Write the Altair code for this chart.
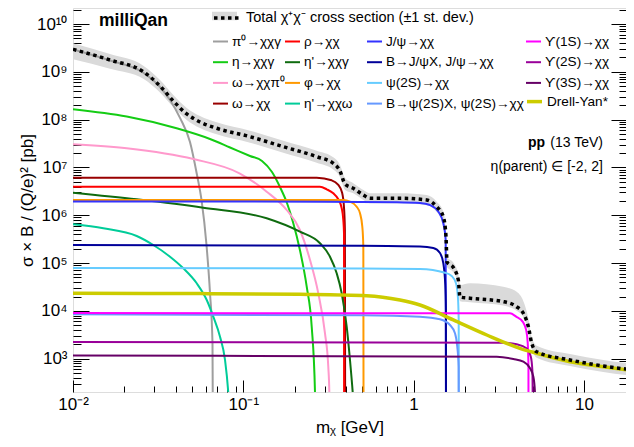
import altair as alt
import pandas as pd

W, H = 553, 384
X_DOM = [0.01, 17.67]
Y_DOM = [201.0, 2.17e10]
FONT = "Liberation Sans"

TOTAL = "Total χ⁺χ⁻ cross section (±1 st. dev.)"

# ---------------- series values ----------------
pi0_x = [0.01, 0.0165, 0.02576, 0.03243, 0.03712, 0.0425, 0.04864, 0.05348, 0.05684, 0.0608, 0.06375, 0.06593, 0.06665]
pi0_y = [2.94e9, 1.73e9, 9.7e8, 4.83e8, 2.58e8, 1.09e8, 3.41e7, 6.97e6, 2.09e6, 2.39e5, 2.37e4, 2.13e3, 1.0]

eta_x = [0.01, 0.02067, 0.0406, 0.0637, 0.0836, 0.1095, 0.1288, 0.1474, 0.1642, 0.1805, 0.1957, 0.215, 0.2357, 0.2522, 0.2636, 0.27]
eta_y = [1.65e8, 1.16e8, 6.61e7, 3.95e7, 2.62e7, 1.74e7, 1.37e7, 8.05e6, 3.91e6, 1.81e6, 7.24e5, 1.88e5, 3.21e4, 4.67e3, 200, 1.0]

omdal_x = [0.01, 0.02067, 0.0509, 0.095, 0.1372, 0.1798, 0.215, 0.2465, 0.2757, 0.3018, 0.3155, 0.32, 0.324]
omdal_y = [3.06e7, 2.52e7, 1.5e7, 7.56e6, 3.12e6, 1.29e6, 4.92e5, 1.16e5, 2.33e4, 3.4e3, 681, 200, 1.0]

omega_x = [0.01, 0.1, 0.27, 0.33, 0.36, 0.38, 0.39, 0.395, 0.397]
omega_y = [6.12e6, 6.12e6, 6.1e6, 5.4e6, 4.4e6, 3.0e6, 1.5e6, 5.0e5, 1.0]

rho_x = [0.01, 0.1, 0.282, 0.3088, 0.3377, 0.3613, 0.3784, 0.3866, 0.3903, 0.391]
rho_y = [3.96e6, 3.96e6, 3.94e6, 3.5e6, 2.88e6, 2.16e6, 1.4e6, 7.98e5, 4.2e5, 1.0]

etapg_x = [0.01, 0.02366, 0.0582, 0.1372, 0.215, 0.282, 0.3229, 0.3535, 0.3784, 0.4047, 0.4231, 0.4389, 0.478]
etapg_y = [2.97e6, 2.16e6, 1.44e6, 8.65e5, 4.54e5, 2.6e5, 1.36e5, 6.12e4, 2.33e4, 4.67e3, 940, 200, 1.0]

phi_x = [0.01, 0.3866, 0.4231, 0.4634, 0.4845, 0.4998, 0.5068, 0.509]
phi_y = [2.09e6, 2.09e6, 1.93e6, 1.51e6, 1.1e6, 5.8e5, 2.2e5, 1.0]

etapw_x = [0.01, 0.01507, 0.02366, 0.02961, 0.03712, 0.04444, 0.05326, 0.061, 0.06665, 0.073, 0.0781, 0.0816, 0.0877]
etapw_y = [6.49e5, 5.35e5, 3.69e5, 2.39e5, 1.36e5, 7.78e4, 3.78e4, 1.69e4, 7.57e3, 2.88e3, 940, 200, 1.0]

jpsi_x = [0.01, 0.3, 0.8, 1.09, 1.248, 1.397, 1.494, 1.543, 1.552]
jpsi_y = [1.95e6, 1.93e6, 1.88e6, 1.81e6, 1.64e6, 1.19e6, 6.8e5, 3.04e5, 1.0]

bjpsi_x = [0.01, 0.5, 1.09, 1.305, 1.429, 1.494, 1.535, 1.548, 1.552]
bjpsi_y = [2.39e5, 2.3e5, 2.22e5, 2.07e5, 1.63e5, 1.0e5, 3.5e4, 1.04e4, 1.0]

psi2s_x = [0.01, 0.5, 1.09, 1.529, 1.674, 1.774, 1.82, 1.84, 1.846]
psi2s_y = [7.9e4, 7.7e4, 7.53e4, 6.3e4, 5.37e4, 3.78e4, 1.98e4, 6.5e3, 1.0]

bpsi2s_x = [0.01, 0.5, 1.09, 1.429, 1.636, 1.75, 1.805, 1.839, 1.846]
bpsi2s_y = [8.5e3, 8.1e3, 7.57e3, 6.67e3, 5.07e3, 3.4e3, 1.78e3, 681, 1.0]

ups1_x = [0.01, 3.68, 4.0, 4.38, 4.58, 4.68, 4.725, 4.732]
ups1_y = [9.0e3, 8.9e3, 7.6e3, 5.9e3, 4.0e3, 2.1e3, 700, 1.0]

ups2_x = [0.01, 3.36, 4.03, 4.6, 4.88, 4.98, 5.005, 5.012]
ups2_y = [2.23e3, 2.16e3, 2.0e3, 1.65e3, 1.1e3, 580, 150, 1.0]

ups3_x = [0.01, 3.08, 3.85, 4.41, 4.83, 5.05, 5.16, 5.18]
ups3_y = [1.16e3, 1.10e3, 986, 865, 630, 420, 200, 1.0]

dy_x = [0.01, 0.0557, 0.215, 0.53, 0.832, 1.09, 1.71, 2.69, 4.21, 5.28, 8.29, 13.0, 19.5]
dy_y = [2.33e4, 2.3e4, 2.22e4, 2.08e4, 1.69e4, 1.33e4, 6.46e3, 3.13e3, 1.65e3, 1.30e3, 865, 681, 561]

total_x = [0.01, 0.0165, 0.02587, 0.03243, 0.03882, 0.04652, 0.0557, 0.06981, 0.1095, 0.1717,
           0.2698, 0.3377, 0.3697, 0.3956, 0.4426, 0.5068, 0.5546, 0.832, 1.194, 1.367,
           1.494, 1.550, 1.571, 1.710, 1.830, 1.873, 2.144, 3.36, 4.03, 4.41,
           4.72, 4.94, 5.28, 8.29, 13.0, 19.5]
total_y = [2.97e9, 1.77e9, 1.01e9, 5.07e8, 2.46e8, 1.32e8, 8.95e7, 6.61e7, 4.41e7, 2.72e7,
           1.68e7, 1.22e7, 8.45e6, 4.52e6, 3.67e6, 2.66e6, 2.27e6, 2.27e6, 2.09e6, 1.51e6,
           9.35e5, 3.57e5, 1.05e5, 8.09e4, 4.43e4, 1.95e4, 1.84e4, 1.56e4, 1.22e4, 8.9e3,
           4.67e3, 2.1e3, 1.40e3, 940, 703, 581]
band_hi = [3.96e9, 2.36e9, 1.35e9, 6.77e8, 3.28e8, 1.76e8, 1.19e8, 8.8e7, 5.9e7, 3.63e7,
           2.24e7, 1.63e7, 1.13e7, 6.0e6, 4.7e6, 3.4e6, 2.9e6, 2.9e6, 2.65e6, 1.92e6,
           1.19e6, 4.5e5, 1.33e5, 1.03e5, 5.9e4, 3.5e4, 3.8e4, 3.2e4, 2.5e4, 1.6e4,
           7.0e3, 2.8e3, 1.87e3, 1.25e3, 940, 775]
band_lo = [1.83e9, 1.17e9, 7.2e8, 3.7e8, 1.84e8, 9.9e7, 6.7e7, 4.95e7, 3.3e7, 2.04e7,
           1.26e7, 9.1e6, 6.3e6, 3.4e6, 2.9e6, 2.1e6, 1.79e6, 1.79e6, 1.65e6, 1.19e6,
           7.4e5, 2.8e5, 8.3e4, 6.4e4, 3.5e4, 1.6e4, 1.52e4, 1.29e4, 1.01e4, 7.4e3,
           3.8e3, 1.7e3, 1.05e3, 705, 527, 435]

# legend columns (names, colours, data)
col1_names = ["π⁰→χχγ", "η→χχγ", "ω→χχπ⁰", "ω→χχ"]
col1_colors = ["#9e9e9e", "#14cc14", "#ff99cc", "#990000"]
col1_data = [(pi0_x, pi0_y), (eta_x, eta_y), (omdal_x, omdal_y), (omega_x, omega_y)]

col2_names = ["ρ→χχ", "η'→χχγ", "φ→χχ", "η'→χχω"]
col2_colors = ["#ff0000", "#0f6b0f", "#ff9900", "#00cc99"]
col2_data = [(rho_x, rho_y), (etapg_x, etapg_y), (phi_x, phi_y), (etapw_x, etapw_y)]

col3_names = ["J/ψ→χχ", "B→J/ψX, J/ψ→χχ", "ψ(2S)→χχ", "B→ψ(2S)X, ψ(2S)→χχ"]
col3_colors = ["#3333ff", "#000099", "#66ccff", "#6699ff"]
col3_data = [(jpsi_x, jpsi_y), (bjpsi_x, bjpsi_y), (psi2s_x, psi2s_y), (bpsi2s_x, bpsi2s_y)]

col4_names = ["ϒ(1S)→χχ", "ϒ(2S)→χχ", "ϒ(3S)→χχ"]
col4_colors = ["#ff00ff", "#990099", "#660066"]
col4_data = [(ups1_x, ups1_y), (ups2_x, ups2_y), (ups3_x, ups3_y)]

dy_names = ["Drell-Yan*"]
dy_colors = ["#cccc00"]
dy_data = [(dy_x, dy_y)]

X_MAJOR = [0.01, 0.1, 1, 10]
X_MINOR = [0.02, 0.03, 0.04, 0.05, 0.06, 0.07, 0.08, 0.09,
           0.2, 0.3, 0.4, 0.5, 0.6, 0.7, 0.8, 0.9,
           2, 3, 4, 5, 6, 7, 8, 9]
Y_MAJOR = [1e3, 1e4, 1e5, 1e6, 1e7, 1e8, 1e9, 1e10]
Y_MINOR = [m * 10 ** e for e in range(2, 11) for m in range(2, 10) if 201 < m * 10 ** e < 2.17e10]


def frame(names, data):
    rows = []
    for n, (xs_, ys_) in zip(names, data):
        for xv, yv in zip(xs_, ys_):
            rows.append({"name": n, "x": xv, "y": yv})
    return pd.DataFrame(rows)


xs = alt.Scale(type="log", domain=X_DOM, nice=False)
ys = alt.Scale(type="log", domain=Y_DOM, nice=False)

X_LABELS = "datum.value < 0.05 ? '10⁻²' : datum.value < 0.5 ? '10⁻¹' : datum.value < 5 ? '1' : '10'"
Y_LABELS = "'10' + ['³','⁴','⁵','⁶','⁷','⁸','⁹','¹⁰'][round(log(datum.value)/LN10) - 3]"

ax_x_lab = alt.Axis(orient="bottom", values=X_MAJOR, labelExpr=X_LABELS, ticks=False, domain=False,
                    grid=False, labelFontSize=17, labelPadding=4, labelFlush=False, labelOverlap=False,
                    labelColor="black", labelFont=FONT, title="mᵪ [GeV]", titleFontSize=17,
                    titleFontWeight="normal", titleFont=FONT, titleColor="black", titlePadding=7)
ax_y_lab = alt.Axis(orient="left", values=Y_MAJOR, labelExpr=Y_LABELS, ticks=False, domain=False,
                    grid=False, labelFontSize=17, labelPadding=6, labelOverlap=False, labelColor="black",
                    labelFont=FONT, title="σ × B / (Q/e)² [pb]", titleFontSize=17,
                    titleFontWeight="normal", titleFont=FONT, titleColor="black", titlePadding=0)


def tick_axis(orient, values, size, offset):
    return alt.Axis(orient=orient, values=values, offset=offset, tickSize=size, labels=False,
                    domain=False, grid=False, title="", tickColor="black", tickWidth=1)


LEG_FS = 13.6


def line_legend(lx, ly, sw=2.0):
    return alt.Legend(orient="none", legendX=lx, legendY=ly, title=None, direction="vertical",
                      symbolType="stroke", symbolSize=225, symbolStrokeWidth=sw,
                      labelFontSize=LEG_FS, labelFont=FONT, labelColor="black", labelOffset=3,
                      rowPadding=4.7, padding=0, labelLimit=400)


ROW0 = 25
ROWH = 19.7

band_df = pd.DataFrame({"name": TOTAL, "x": total_x, "lo": band_lo, "hi": band_hi})
total_df = pd.DataFrame({"name": TOTAL, "x": total_x, "y": total_y})

band = alt.Chart(band_df).mark_area(clip=True, interpolate="monotone", opacity=1).encode(
    x=alt.X("x:Q", scale=xs, axis=ax_x_lab),
    y=alt.Y("lo:Q", scale=ys, axis=ax_y_lab),
    y2="hi:Q",
    color=alt.Color("name:N", scale=alt.Scale(domain=[TOTAL], range=["#dadada"]),
                    legend=alt.Legend(orient="none", legendX=139, legendY=-4.5, title=None,
                                      symbolType="M-1,-0.34L1,-0.34L1,0.34L-1,0.34Z",
                                      symbolSize=625, symbolStrokeWidth=0, symbolOpacity=1,
                                      labelExpr="''", labelFontSize=14.5, labelOffset=5, padding=0)),
)


def series_layer(names, colors, data, legend, xaxis, yaxis, width=2.0):
    return alt.Chart(frame(names, data)).mark_line(clip=True, interpolate="monotone",
                                                   strokeWidth=width).encode(
        x=alt.X("x:Q", scale=xs, axis=xaxis),
        y=alt.Y("y:Q", scale=ys, axis=yaxis),
        color=alt.Color("name:N", scale=alt.Scale(domain=names, range=colors), legend=legend),
    )


l1 = series_layer(col1_names, col1_colors, col1_data, line_legend(139, ROW0),
                  tick_axis("top", X_MAJOR, 12, -H), tick_axis("right", Y_MAJOR, 16, -W))
l2 = series_layer(col2_names, col2_colors, col2_data, line_legend(211, ROW0),
                  tick_axis("top", X_MINOR, 6, -H), tick_axis("right", Y_MINOR, 8, -W))
l3 = series_layer(col3_names, col3_colors, col3_data, line_legend(293, ROW0),
                  None, tick_axis("left", Y_MAJOR, 15, -W))
l4 = series_layer(col4_names, col4_colors, col4_data, line_legend(452, ROW0),
                  None, tick_axis("left", Y_MINOR, 7, -W))
l5 = series_layer(dy_names, dy_colors, dy_data, line_legend(452, ROW0 + 3 * ROWH, 3.5),
                  None, None, width=3.5)

total = alt.Chart(total_df).mark_line(clip=True, interpolate="monotone", strokeWidth=3.5,
                                      strokeDash=[3.5, 3.5]).encode(
    x=alt.X("x:Q", scale=xs, axis=None),
    y=alt.Y("y:Q", scale=ys, axis=None),
    color=alt.Color("name:N", scale=alt.Scale(domain=[TOTAL], range=["black"]),
                    legend=alt.Legend(orient="none", legendX=139, legendY=-4.5, title=None,
                                      symbolType="stroke", symbolSize=625, symbolStrokeWidth=3.5,
                                      symbolDash=[3.5, 3.5], labelFontSize=14.5, labelFont=FONT,
                                      labelColor="black", labelOffset=5, padding=0, labelLimit=400)),
)


def label(text, x, y, size, weight="normal", align="left"):
    return alt.Chart(pd.DataFrame({"t": [text]})).mark_text(
        font=FONT, fontSize=size, fontWeight=weight, align=align, baseline="middle", color="black"
    ).encode(x=alt.value(x), y=alt.value(y), text="t:N")


texts = [
    label("milliQan", 26, 13, 17.5, "bold"),
    label("pp", 472, 135, 14, "bold", "right"),
    label("(13 TeV)", 530, 135, 14, "normal", "right"),
    label("η(parent) ∈ [-2, 2]", 530, 159, 14, "normal", "right"),
]

chart = alt.layer(band, l1, l2, l3, l4, l5, total, *texts).resolve_scale(
    color="independent"
).resolve_axis(x="independent", y="independent").properties(
    width=W, height=H,
    padding={"left": 65, "top": 0, "right": 0, "bottom": 47},
    autosize=alt.AutoSizeParams(type="none"),
    background="white",
).configure_view(stroke="black", strokeWidth=1.5).configure(font=FONT)

chart.save("out.html", embed_options={"renderer": "svg", "actions": False})
